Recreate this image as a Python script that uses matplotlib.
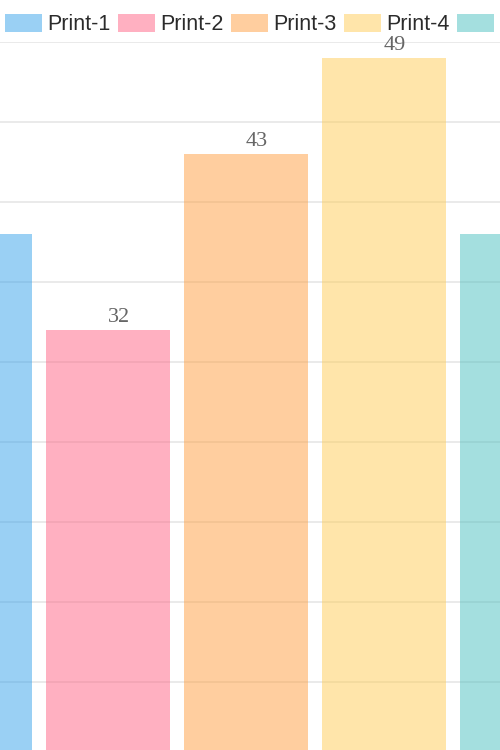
import matplotlib.pyplot as plt
from matplotlib.patches import Rectangle

names = ["Print-1", "Print-2", "Print-3", "Print-4", "Print-5"]
values = [38, 32, 43, 49, 38]
colors = ["#36a2eb", "#ff6384", "#ff9f40", "#ffcd56", "#4bc0c0"]
y_ticks = [0, 5, 10, 15, 20, 25, 30, 35, 40, 45, 50]

W, H = 500, 750
fig = plt.figure(figsize=(5, 7.5), dpi=100)

# the plot area is wider/taller than the picture (cropped chart)
left_px, right_px = -99, 591
top_px, bottom_px = 42, 842
ax = fig.add_axes([left_px / W, (H - bottom_px) / H,
                   (right_px - left_px) / W, (bottom_px - top_px) / H])
ax.set_xlim(-0.5, len(names) - 0.5)
ax.set_ylim(0, 50)
ax.set_yticks(y_ticks)
ax.grid(axis="y", color="#e6e6e6", linewidth=1.2)
ax.set_axisbelow(True)
for sp in ax.spines.values():
    sp.set_visible(False)
ax.tick_params(left=False, bottom=False, labelleft=False, labelbottom=False)

x = range(len(names))
ax.bar(x, values, width=0.9, color=colors, alpha=0.5, linewidth=0)
for i, v in zip(x, values):
    ax.text(i + 0.08, v + 0.2, str(v), ha="center", va="bottom", color="#666666",
            fontsize=16, family="Liberation Serif")

# legend, Chart.js style, along the top
for i, (n, c) in enumerate(zip(names, colors)):
    bx = 5 + i * 113
    fig.patches.append(Rectangle((bx / W, (H - 32) / H), 37 / W, 18 / H,
                                 transform=fig.transFigure, facecolor=c, alpha=0.5,
                                 linewidth=0))
    fig.text((bx + 42) / W, (H - 25) / H, n, ha="left", va="center",
             fontsize=15.5, color="#2b2b2b", family="Liberation Sans")

fig.savefig("out.png", dpi=100)
